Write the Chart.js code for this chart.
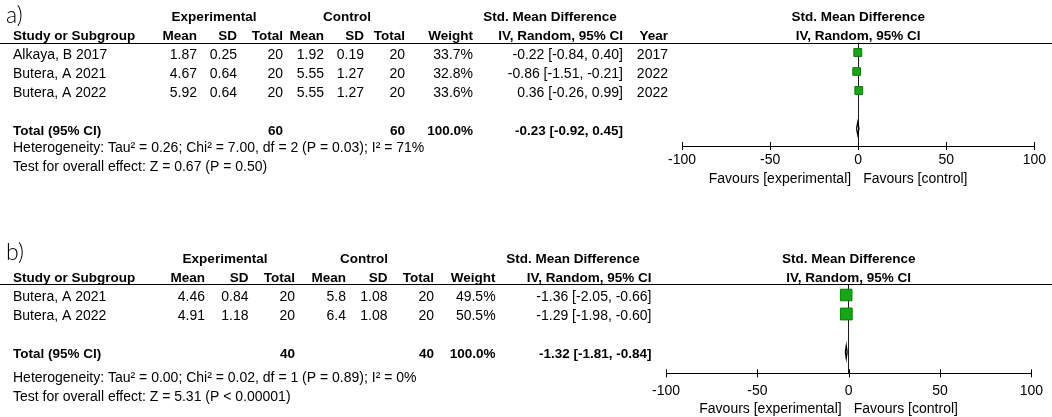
<!DOCTYPE html>
<html>
<head>
<meta charset="utf-8">
<script src="https://cdn.jsdelivr.net/npm/chart.js@4.4.0/dist/chart.umd.min.js"></script>
<style>
html, body { margin:0; padding:0; background:#fff; }
#wrap { position:relative; width:1052px; height:417px; overflow:hidden; }
canvas { position:absolute; left:0; }
#cA { top:0; }
#cB { top:210px; }
</style>
</head>
<body>
<div id="wrap">
<canvas id="cA" width="1052" height="210"></canvas>
<canvas id="cB" width="1052" height="207"></canvas>
</div>
<script>
/*************************************** DATOS PANEL a) **************************************/
var estudiosA = ['Alkaya, B 2017', 'Butera, A 2021', 'Butera, A 2022'];
var expMediaA = [1.87, 4.67, 5.92];
var expSdA    = [0.25, 0.64, 0.64];
var expNA     = [20, 20, 20];
var ctlMediaA = [1.92, 5.55, 5.55];
var ctlSdA    = [0.19, 1.27, 1.27];
var ctlNA     = [20, 20, 20];
var pesoA     = [33.7, 32.8, 33.6];
var smdA      = [-0.22, -0.86, 0.36];
var infA      = [-0.84, -1.51, -0.26];
var supA      = [0.40, -0.21, 0.99];
var anioA     = [2017, 2022, 2022];
var totalNA   = [60, 60];
var totalSmdA = [-0.23, -0.92, 0.45];
var hetA  = 'Heterogeneity: Tau\u00b2 = 0.26; Chi\u00b2 = 7.00, df = 2 (P = 0.03); I\u00b2 = 71%';
var testA = 'Test for overall effect: Z = 0.67 (P = 0.50)';

/*************************************** DATOS PANEL b) **************************************/
var estudiosB = ['Butera, A 2021', 'Butera, A 2022'];
var expMediaB = [4.46, 4.91];
var expSdB    = [0.84, 1.18];
var expNB     = [20, 20];
var ctlMediaB = [5.8, 6.4];
var ctlSdB    = [1.08, 1.08];
var ctlNB     = [20, 20];
var pesoB     = [49.5, 50.5];
var smdB      = [-1.36, -1.29];
var infB      = [-2.05, -1.98];
var supB      = [-0.66, -0.60];
var totalNB   = [40, 40];
var totalSmdB = [-1.32, -1.81, -0.84];
var hetB  = 'Heterogeneity: Tau\u00b2 = 0.00; Chi\u00b2 = 0.02, df = 1 (P = 0.89); I\u00b2 = 0%';
var testB = 'Test for overall effect: Z = 5.31 (P < 0.00001)';

// marcas del eje x
var ticksX = [-100, -50, 0, 50, 100];

var FUENTE = '"Liberation Sans", Arial, sans-serif';
var TAM = 14;      // texto normal
var TAM_B = 13.5;  // texto en negrita
var VERDE = '#14a814';

function f2(v) { return v.toFixed(2); }
function ic(e, l, u) { return f2(e) + ' [' + f2(l) + ', ' + f2(u) + ']'; }

function texto(ctx, s, x, y, align, bold, size, fam) {
    ctx.font = (bold ? 'bold ' : '') + (size || (bold ? TAM_B : TAM)) + 'px ' + (fam || FUENTE);
    ctx.textAlign = align;
    ctx.textBaseline = 'middle';
    ctx.fillStyle = '#000';
    ctx.fillText(s, x, y);
}

/*************************************** GRAFICA FOREST **************************************/
function crearForest(idCanvas, p) {
    var filas = p.estudios.map(function(_, i) { return i + 1; });
    var datasets = [];

    // cuadros por estudio (tamaño segun peso)
    datasets.push({
        data: p.smd.map(function(v, i) { return {x: v, y: filas[i]}; }),
        pointStyle: 'rect',
        pointRadius: p.peso.map(function(w) { return w * 0.165; }),
        backgroundColor: VERDE,
        borderColor: '#0b7a0b',
        borderWidth: 1
    });
    // intervalos de confianza
    p.smd.forEach(function(v, i) {
        datasets.push({
            showLine: true,
            data: [{x: p.inf[i], y: filas[i]}, {x: p.sup[i], y: filas[i]}],
            borderColor: '#000', borderWidth: 1, pointRadius: 0
        });
    });
    // diamante del total
    var t = p.totalSmd, ft = p.filaTotal;
    datasets.push({
        showLine: true,
        data: [{x: t[1], y: ft}, {x: t[0], y: ft - 0.33}, {x: t[2], y: ft}, {x: t[0], y: ft + 0.33}, {x: t[1], y: ft}],
        borderColor: '#000', borderWidth: 1.3, pointRadius: 0, fill: false
    });

    var pluginTabla = {
        id: 'tabla',
        afterDraw: function(chart) {
            var ctx = chart.ctx;
            var xs = chart.scales.x, ys = chart.scales.y;
            var area = chart.chartArea;
            var fy = function(r) { return ys.getPixelForValue(r) + 2.5; };
            var c = p.col;
            var cero = xs.getPixelForValue(0);

            ctx.save();
            // linea bajo encabezado
            ctx.strokeStyle = '#000';
            ctx.lineWidth = 1;
            ctx.beginPath();
            ctx.moveTo(0, Math.round(area.top) + 0.5);
            ctx.lineTo(chart.width, Math.round(area.top) + 0.5);
            ctx.stroke();
            // marcas del eje
            xs.ticks.forEach(function(tk) {
                var px = Math.round(xs.getPixelForValue(tk.value)) + 0.5;
                ctx.beginPath();
                ctx.moveTo(px, area.bottom - 4);
                ctx.lineTo(px, area.bottom + 4);
                ctx.stroke();
            });

            // letra del panel
            ctx.font = '300 23px Lato, "Noto Sans", sans-serif';
            ctx.textAlign = 'left';
            ctx.textBaseline = 'alphabetic';
            ctx.fillStyle = '#000';
            ctx.fillText(p.letra, 6, p.baseLetra);

            // encabezados
            texto(ctx, 'Experimental', c.exp, fy(-1), 'center', true);
            texto(ctx, 'Control', c.ctl, fy(-1), 'center', true);
            texto(ctx, 'Std. Mean Difference', c.smdH, fy(-1), 'center', true);
            texto(ctx, 'Std. Mean Difference', cero, fy(-1), 'center', true);
            texto(ctx, 'Study or Subgroup', 13, fy(0), 'left', true);
            texto(ctx, 'Mean', c.eMedia, fy(0), 'right', true);
            texto(ctx, 'SD', c.eSd, fy(0), 'right', true);
            texto(ctx, 'Total', c.eN, fy(0), 'right', true);
            texto(ctx, 'Mean', c.cMedia, fy(0), 'right', true);
            texto(ctx, 'SD', c.cSd, fy(0), 'right', true);
            texto(ctx, 'Total', c.cN, fy(0), 'right', true);
            texto(ctx, 'Weight', c.peso, fy(0), 'right', true);
            texto(ctx, 'IV, Random, 95% CI', c.ic, fy(0), 'right', true);
            texto(ctx, 'IV, Random, 95% CI', cero, fy(0), 'center', true);
            if (p.anio) texto(ctx, 'Year', c.anio, fy(0), 'right', true);

            // filas de estudios
            p.estudios.forEach(function(nom, i) {
                var y = fy(filas[i]);
                texto(ctx, nom, 13, y, 'left');
                texto(ctx, String(p.eMedia[i]), c.eMedia, y, 'right');
                texto(ctx, String(p.eSd[i]), c.eSd, y, 'right');
                texto(ctx, String(p.eN[i]), c.eN, y, 'right');
                texto(ctx, String(p.cMedia[i]), c.cMedia, y, 'right');
                texto(ctx, String(p.cSd[i]), c.cSd, y, 'right');
                texto(ctx, String(p.cN[i]), c.cN, y, 'right');
                texto(ctx, p.peso[i].toFixed(1) + '%', c.peso, y, 'right');
                texto(ctx, ic(p.smd[i], p.inf[i], p.sup[i]), c.ic, y, 'right');
                if (p.anio) texto(ctx, String(p.anio[i]), c.anio, y, 'right');
            });

            // fila total
            var yt = fy(ft);
            texto(ctx, 'Total (95% CI)', 13, yt, 'left', true);
            texto(ctx, String(p.totalN[0]), c.eN, yt, 'right', true);
            texto(ctx, String(p.totalN[1]), c.cN, yt, 'right', true);
            texto(ctx, '100.0%', c.peso, yt, 'right', true);
            texto(ctx, ic(t[0], t[1], t[2]), c.ic, yt, 'right', true);
            texto(ctx, p.het, 13, fy(p.filaHet), 'left');
            texto(ctx, p.test, 13, fy(p.filaHet + 1), 'left');

            // etiquetas favours
            texto(ctx, 'Favours [experimental]', cero - 7, area.bottom + p.dyFav, 'right');
            texto(ctx, 'Favours [control]', cero + 5, area.bottom + p.dyFav, 'left');
            ctx.restore();
        }
    };

    return new Chart(document.getElementById(idCanvas), {
        type: 'scatter',
        data: {datasets: datasets},
        options: {
            responsive: false,
            animation: false,
            devicePixelRatio: 1,
            events: [],
            layout: {padding: p.padding},
            plugins: {legend: {display: false}, tooltip: {enabled: false}},
            scales: {
                x: {
                    type: 'linear', min: -100, max: 100,
                    afterBuildTicks: function(s) { s.ticks = ticksX.map(function(v) { return {value: v}; }); },
                    afterFit: function(s) { s.height = 40; },
                    grid: {
                        drawTicks: false,
                        color: function(cx) { return cx.tick && cx.tick.value === 0 ? '#1a1a1a' : 'rgba(0,0,0,0)'; }
                    },
                    border: {display: true, color: '#000', width: 1},
                    ticks: {padding: p.padTicks, color: '#000', font: {family: FUENTE, size: TAM}, maxRotation: 0, autoSkip: false}
                },
                y: {type: 'linear', display: false, reverse: true, min: p.yMin, max: p.yMax}
            }
        },
        plugins: [pluginTabla]
    });
}

crearForest('cA', {
    letra: 'a)', baseLetra: 23,
    estudios: estudiosA, eMedia: expMediaA, eSd: expSdA, eN: expNA,
    cMedia: ctlMediaA, cSd: ctlSdA, cN: ctlNA, peso: pesoA,
    smd: smdA, inf: infA, sup: supA, anio: anioA,
    totalN: totalNA, totalSmd: totalSmdA, filaTotal: 5, filaHet: 5.89,
    het: hetA, test: testA,
    col: {exp: 214, ctl: 347, smdH: 550, eMedia: 197, eSd: 237, eN: 283, cMedia: 324, cSd: 364, cN: 405, peso: 473, ic: 623, anio: 668},
    padding: {left: 682, right: 17.3, top: 42.7, bottom: 24},
    yMin: 0.484, yMax: 5.92, padTicks: 6, dyFav: 33
});

crearForest('cB', {
    letra: 'b)', baseLetra: 50,
    estudios: estudiosB, eMedia: expMediaB, eSd: expSdB, eN: expNB,
    cMedia: ctlMediaB, cSd: ctlSdB, cN: ctlNB, peso: pesoB,
    smd: smdB, inf: infB, sup: supB, anio: null,
    totalN: totalNB, totalSmd: totalSmdB, filaTotal: 4, filaHet: 5.24,
    het: hetB, test: testB,
    col: {exp: 225, ctl: 364, smdH: 573, eMedia: 205, eSd: 248.5, eN: 295, cMedia: 346, cSd: 387.5, cN: 434, peso: 495.6, ic: 651.5},
    padding: {left: 666, right: 17.7, top: 74.3, bottom: 3.7},
    yMin: 0.437, yMax: 5.12, padTicks: 9, dyFav: 36
});
</script>
</body>
</html>
